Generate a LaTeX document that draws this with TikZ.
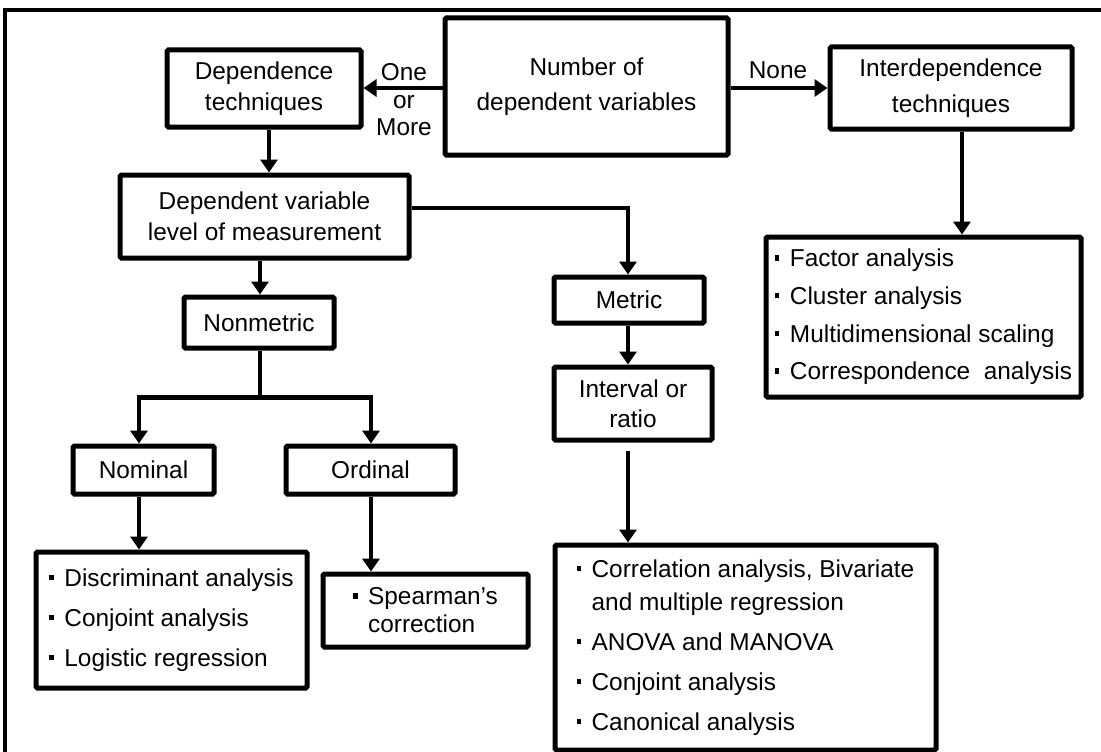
\documentclass[tikz,border=0pt]{standalone}
\usepackage{fontspec}
\setmainfont{Liberation Sans}
\usetikzlibrary{arrows.meta}
\newcommand\bul{\makebox[15pt][l]{\rule[6pt]{4.5pt}{5.5pt}}}
\newcommand\fs[1]{\fontsize{24.4}{#1}\selectfont}
\begin{document}
\begin{tikzpicture}[x=1pt,y=-1pt,
  box/.style={draw, line width=5pt, rounded corners=1.5pt, inner sep=0pt, align=center},
  lbox/.style={draw, line width=5pt, rounded corners=1.5pt, inner sep=0pt, align=left},
  arr/.style={line width=4.5pt, -{Triangle[length=13pt,width=17pt]}},
  ln/.style={line width=4.5pt},
  lab/.style={align=center, inner sep=0pt}
]
\useasboundingbox (0,0) rectangle (1101,752);
\fill[white] (0,0) rectangle (1101,752);
\draw[line width=3.5pt] (5,752) -- (5,10) -- (1101,10);

% boxes
\node[box, minimum width=283pt, minimum height=137pt, font=\fs{35}] (num) at (586.5,86.5) {Number of\\dependent variables};
\node[box, minimum width=194pt, minimum height=77pt, font=\fs{31}] (dep) at (264,88.5) {Dependence\\techniques};
\node[box, minimum width=242pt, minimum height=82pt, font=\fs{36}] (inter) at (951,88) {Interdependence\\techniques};
\node[box, minimum width=289pt, minimum height=83pt, font=\fs{31}] (dvlm) at (264.5,216.5) {Dependent variable\\level of measurement};
\node[box, minimum width=150pt, minimum height=46pt, font=\fs{30}] (metric) at (629,300) {Metric};
\node[box, minimum width=158pt, minimum height=73pt, font=\fs{30}] (interval) at (633,403.5) {Interval or\\ratio};
\node[lbox, minimum width=381pt, minimum height=205pt, font=\fs{33}] (metres) at (745.5,647.5)
  {\bul Correlation analysis, Bivariate\\\hspace*{15pt}and multiple regression\\[7pt]\bul ANOVA and MANOVA\\[7pt]\bul Conjoint analysis\\[7pt]\bul Canonical analysis};
\node[lbox, minimum width=315pt, minimum height=160pt, font=\fs{37.7}] (interres) at (923.5,317)
  {\bul Factor analysis\\\bul Cluster analysis\\\bul Multidimensional scaling\\\bul Correspondence\ \ analysis};
\node[box, minimum width=150pt, minimum height=51pt, font=\fs{30}] (nonmetric) at (259,322.5) {Nonmetric};
\node[box, minimum width=141pt, minimum height=48pt, font=\fs{30}] (nominal) at (143.5,470) {Nominal};
\node[box, minimum width=169pt, minimum height=48pt, font=\fs{30}] (ordinal) at (370.5,470) {Ordinal};
\node[lbox, minimum width=271pt, minimum height=136pt, font=\fs{40}] (nomres) at (171.5,620)
  {\bul Discriminant analysis\\\bul Conjoint analysis\\\bul Logistic regression};
\node[lbox, minimum width=205pt, minimum height=73pt, font=\fs{28}] (spear) at (425.5,610.5)
  {\bul Spearman's\\\hspace*{15pt}correction};

% labels
\node[lab, font=\fs{27.5}] (onemore) at (404,100) {One\\or\\More};
\node[lab, font=\fs{30}] (none) at (778,70) {None};

% connectors
\coordinate (ny) at ([yshift=-1.5pt]num.west);
\draw[arr] (ny) -- (ny -| dep.east);
\draw[arr] (ny -| num.east) -- (ny -| inter.west);
\coordinate (ia) at ([xshift=11pt]inter.south);
\draw[arr] (ia) -- (ia |- interres.north);
\coordinate (da) at ([xshift=5pt]dep.south);
\draw[arr] (da) -- (da |- dvlm.north);
\coordinate (dr) at ([yshift=8.5pt]dvlm.east);
\coordinate (mt) at ([xshift=-1pt]metric.north);
\draw[arr] (dr) -| (mt);
\draw[arr] (mt |- metric.south) -- (mt |- interval.north);
\coordinate (ib) at ([yshift=-8pt]interval.south);
\draw[arr] (mt |- ib) -- (mt |- metres.north);
\coordinate (na) at ([xshift=1pt]nonmetric.north);
\draw[arr] (na |- dvlm.south) -- (na);
\coordinate (br) at ([yshift=-47pt]na |- nonmetric.south);
\draw[ln] (na |- nonmetric.south) -- (br);
\coordinate (nl) at ([xshift=-4.5pt]nominal.north);
\coordinate (ol) at ([xshift=0.5pt]ordinal.north);
\draw[ln] ([xshift=-2.25pt]br -| nl) -- ([xshift=2.25pt]br -| ol);
\draw[arr] (br -| nl) -- (nl);
\draw[arr] (br -| ol) -- (ol);
\draw[arr] (nl |- nominal.south) -- (nl |- nomres.north);
\draw[arr] (ol |- ordinal.south) -- (ol |- spear.north);
\end{tikzpicture}
\end{document}
